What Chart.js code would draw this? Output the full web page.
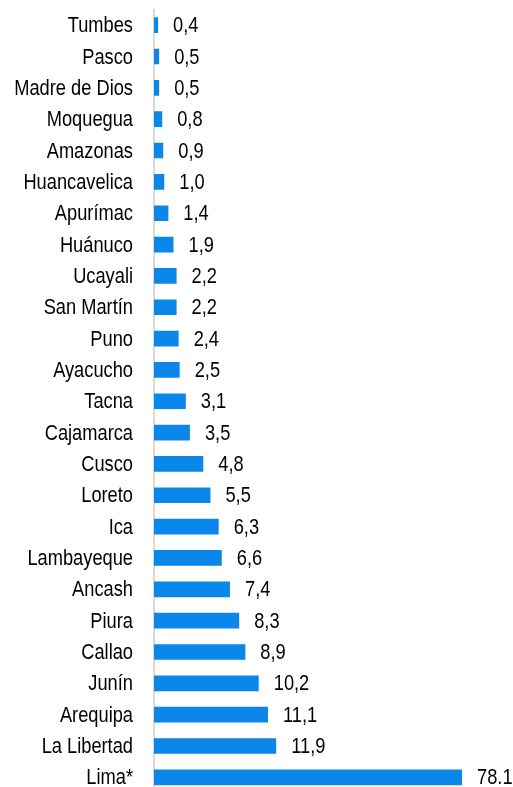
<!DOCTYPE html>
<html>
<head>
<meta charset="utf-8">
<script src="https://cdn.jsdelivr.net/npm/chart.js@4"></script>
<style>
    html, body { margin: 0; padding: 0; background: #fff; overflow: hidden; }
    canvas { display: block; }
</style>
</head>
<body>
<canvas id="chart" width="513" height="794"></canvas>
<script>
const regions = ['Tumbes', 'Pasco', 'Madre de Dios', 'Moquegua', 'Amazonas', 'Huancavelica',
    'Apurímac', 'Huánuco', 'Ucayali', 'San Martín', 'Puno', 'Ayacucho', 'Tacna', 'Cajamarca',
    'Cusco', 'Loreto', 'Ica', 'Lambayeque', 'Ancash', 'Piura', 'Callao', 'Junín', 'Arequipa',
    'La Libertad', 'Lima*'];
const values = [0.4, 0.5, 0.5, 0.8, 0.9, 1.0, 1.4, 1.9, 2.2, 2.2, 2.4, 2.5, 3.1, 3.5,
    4.8, 5.5, 6.3, 6.6, 7.4, 8.3, 8.9, 10.2, 11.1, 11.9, 78.1];
const valueText = ['0,4', '0,5', '0,5', '0,8', '0,9', '1,0', '1,4', '1,9', '2,2', '2,2', '2,4',
    '2,5', '3,1', '3,5', '4,8', '5,5', '6,3', '6,6', '7,4', '8,3', '8,9', '10,2', '11,1',
    '11,9', '78.1'];

// no narrow font installed, so squeeze Liberation Sans horizontally
const FONT = "22px 'Liberation Sans', Arial, sans-serif";
const SQUEEZE = 0.83;

function drawNarrow(ctx, text, x, y, align) {
    ctx.save();
    ctx.translate(x, y);
    ctx.scale(SQUEEZE, 1);
    ctx.textAlign = align;
    ctx.fillText(text, 0, 0);
    ctx.restore();
}

// category names and value labels (Lima's bar is cut at the axis max)
const narrowLabels = {
    id: 'narrowLabels',
    afterDatasetsDraw(chart) {
        const ctx = chart.ctx;
        const area = chart.chartArea;
        const yScale = chart.scales.y;
        const meta = chart.getDatasetMeta(0);
        ctx.save();
        ctx.font = FONT;
        ctx.fillStyle = '#000';
        ctx.textBaseline = 'alphabetic';
        regions.forEach((name, i) => {
            const y = yScale.getPixelForValue(i) + 7;
            drawNarrow(ctx, name, area.left - 21, y, 'right');
        });
        meta.data.forEach((bar, i) => {
            const x = Math.min(bar.x, area.right) + 15;
            drawNarrow(ctx, valueText[i], x, bar.y + 7, 'left');
        });
        ctx.restore();
    }
};

new Chart(document.getElementById('chart'), {
    type: 'bar',
    data: {
        labels: regions,
        datasets: [{
            data: values,
            backgroundColor: '#0A87E8',
            borderWidth: 0,
            barPercentage: 0.5,
            categoryPercentage: 1
        }]
    },
    options: {
        indexAxis: 'y',
        responsive: false,
        animation: false,
        layout: { autoPadding: false, padding: { top: 9.5, right: 51, bottom: 1, left: 0 } },
        plugins: {
            legend: { display: false },
            tooltip: { enabled: false }
        },
        scales: {
            x: {
                min: 0,
                max: 30,
                display: false
            },
            y: {
                afterFit: (scale) => { scale.width = 154; },
                grid: { display: false, drawTicks: false },
                border: { display: true, color: '#D9D9D9', width: 2 },
                ticks: { display: false }
            }
        }
    },
    plugins: [narrowLabels]
});
</script>
</body>
</html>
